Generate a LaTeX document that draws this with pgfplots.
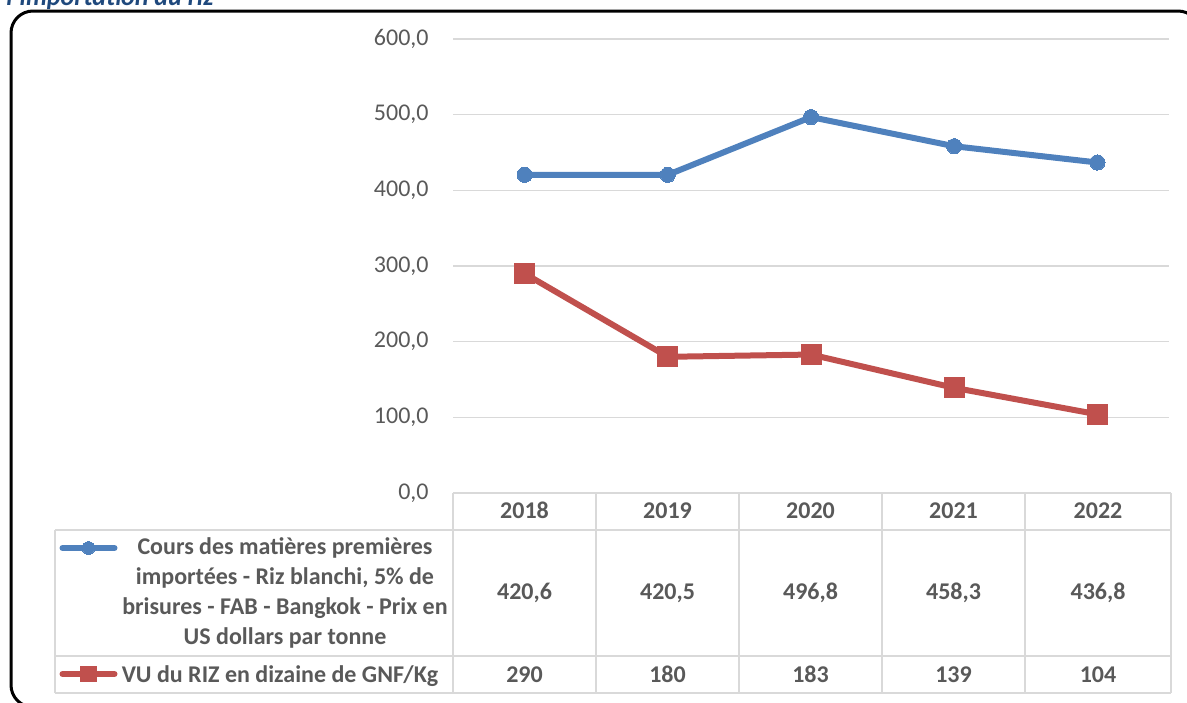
\documentclass[border=0pt]{standalone}
\usepackage{pgfplots}
\pgfplotsset{compat=1.18}
\usepackage{fontspec}
\setmainfont{Carlito}
\definecolor{blueS}{HTML}{4F81BD}
\definecolor{redS}{HTML}{C0504D}
\definecolor{gridG}{HTML}{D9D9D9}
\definecolor{txtG}{HTML}{595959}
\definecolor{titleB}{HTML}{1F497D}
\begin{document}
\begin{tikzpicture}[x=0.5pt,y=-0.5pt]
\useasboundingbox (0,0) rectangle (1187,702);
\clip (0,0) rectangle (1187,702);
% title (cut off at top, as in the source)
\node[anchor=base west, inner sep=0pt, font=\bfseries\itshape\fontsize{13}{15}\selectfont, text=titleB] at (6,5) {l'importation du riz};
% frame
\draw[line width=1.5pt, rounded corners=11pt] (11,11) rectangle (1200,707);
% main axis
\begin{axis}[
  at={(226.5pt,-246.5pt)}, anchor=south west,
  scale only axis, width=358pt, height=227pt,
  xmin=-0.5, xmax=4.5, ymin=0, ymax=600,
  ytick={0,100,...,600}, xtick=\empty,
  axis line style={draw=none},
  ymajorgrids, grid style={gridG, line width=0.8pt},
  major tick length=0pt,
  yticklabel style={text=txtG, font=\fontsize{12}{14}\selectfont, inner sep=0pt, xshift=-12pt,
    /pgf/number format/.cd, fixed, fixed zerofill, precision=1, use comma, assume math mode=true},
  clip=false,
]
\addplot[blueS, line width=3pt, line join=round, mark=*, mark size=3.8pt,
  mark options={solid, fill=blueS, draw=blueS, line width=0pt}]
  coordinates {(0,420.6) (1,420.5) (2,496.8) (3,458.3) (4,436.8)};
\addplot[redS, line width=3pt, line join=round, mark=square*, mark size=5pt,
  mark options={solid, fill=redS, draw=redS, line width=0pt}]
  coordinates {(0,290) (1,180) (2,183) (3,139) (4,104)};
\end{axis}
% legend icons (pgfplots legends in hidden axes)
\begin{axis}[hide axis, scale only axis, width=1pt, height=1pt,
  xmin=0, xmax=1, ymin=0, ymax=1,
  at={(44.75pt,-274pt)}, anchor=center,
  legend style={at={(0.5,0.5)}, anchor=center, draw=none, fill=none, inner sep=0pt, column sep=0pt, nodes={inner sep=0pt}},
  legend image code/.code={\draw[#1, line cap=round] (-13pt,0pt) -- (13pt,0pt); \draw[#1] plot coordinates {(0pt,0pt)};}]
\addlegendimage{blueS, line width=3pt, mark=*, mark size=3.2pt, mark options={solid, fill=blueS, draw=blueS, line width=0pt}}
\addlegendentry{}
\end{axis}
\begin{axis}[hide axis, scale only axis, width=1pt, height=1pt,
  xmin=0, xmax=1, ymin=0, ymax=1,
  at={(44.75pt,-337pt)}, anchor=center,
  legend style={at={(0.5,0.5)}, anchor=center, draw=none, fill=none, inner sep=0pt, column sep=0pt, nodes={inner sep=0pt}},
  legend image code/.code={\draw[#1, line cap=round] (-13pt,0pt) -- (13pt,0pt); \draw[#1] plot coordinates {(0pt,0pt)};}]
\addlegendimage{redS, line width=3pt, mark=square*, mark size=3.9pt, mark options={solid, fill=redS, draw=redS, line width=0pt}}
\addlegendentry{}
\end{axis}
% data table grid
\begin{scope}[gridG, line width=1pt]
\draw (453,493) -- (1171,493);
\draw (55,530) -- (1171,530);
\draw (55,655.5) -- (1171,655.5);
\draw (55,693) -- (1171,693);
\draw (55,530) -- (55,693);
\foreach \xx in {453,596,739,882,1025,1171} {\draw (\xx,493) -- (\xx,693);}
\end{scope}
% table texts
\begin{scope}[every node/.style={font=\bfseries\fontsize{12}{15}\selectfont, text=txtG, inner sep=0pt}]
\node[align=center] at (285,593) {Cours des matières premières\\importées - Riz blanchi, 5\% de\\brisures - FAB - Bangkok - Prix en\\US dollars par tonne};
\node[anchor=base] at (280,682.5) {VU du RIZ en dizaine de GNF/Kg};
\node[anchor=base] at (524.5,518) {2018};
\node[anchor=base] at (667.5,518) {2019};
\node[anchor=base] at (810.5,518) {2020};
\node[anchor=base] at (953.5,518) {2021};
\node[anchor=base] at (1098,518) {2022};
\node[anchor=base] at (524.5,599.5) {420,6};
\node[anchor=base] at (667.5,599.5) {420,5};
\node[anchor=base] at (810.5,599.5) {496,8};
\node[anchor=base] at (953.5,599.5) {458,3};
\node[anchor=base] at (1098,599.5) {436,8};
\node[anchor=base] at (524.5,682.5) {290};
\node[anchor=base] at (667.5,682.5) {180};
\node[anchor=base] at (810.5,682.5) {183};
\node[anchor=base] at (953.5,682.5) {139};
\node[anchor=base] at (1098,682.5) {104};
\end{scope}
\end{tikzpicture}
\end{document}
